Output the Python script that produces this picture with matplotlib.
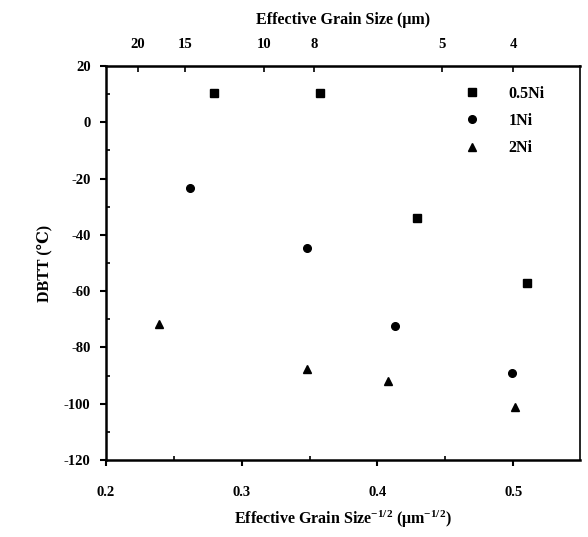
import matplotlib
matplotlib.use("Agg")
import matplotlib.pyplot as plt
from matplotlib.ticker import MultipleLocator
import numpy as np

# bottom axis: effective grain size^-1/2 (um^-1/2), y: DBTT (C)
ni05_x = [0.280, 0.358, 0.429, 0.510]
ni05_y = [10.5, 10.5, -34, -57]
ni1_x = [0.262, 0.348, 0.413, 0.499]
ni1_y = [-23.5, -44.5, -72.5, -89]
ni2_x = [0.239, 0.348, 0.408, 0.501]
ni2_y = [-71.5, -87.5, -92, -101]

grain_sizes = [20, 15, 10, 8, 5, 4]
series_labels = ["0.5Ni", "1Ni", "2Ni"]

plt.rcParams["font.family"] = ["Liberation Serif", "DejaVu Serif"]
plt.rcParams["font.weight"] = "bold"
plt.rcParams["axes.unicode_minus"] = False
plt.rcParams["mathtext.fontset"] = "custom"
plt.rcParams["mathtext.rm"] = "Liberation Serif:bold"
plt.rcParams["mathtext.bf"] = "Liberation Serif:bold"
plt.rcParams["mathtext.it"] = "Liberation Serif:bold"

fig = plt.figure(figsize=(5.88, 5.37), dpi=100)
ax = fig.add_axes([0.180, 0.1434, 0.806, 0.7336])

ax.plot(ni05_x, ni05_y, "s", color="black", ms=5.5, label=series_labels[0])
ax.plot(ni1_x, ni1_y, "o", color="black", ms=5.5, label=series_labels[1])
ax.plot(ni2_x, ni2_y, "^", color="black", ms=6, label=series_labels[2])

ax.set_xlim(0.2, 0.549)
ax.set_ylim(-120, 20)
ax.set_xticks([0.2, 0.3, 0.4, 0.5])
ax.set_xticklabels(["0.2", "0.3", "0.4", "0.5"])
ax.xaxis.set_minor_locator(MultipleLocator(0.05))
ax.yaxis.set_major_locator(MultipleLocator(20))
ax.yaxis.set_minor_locator(MultipleLocator(10))
ax.tick_params(axis="both", which="major", direction="out", length=4, width=1.5,
               labelsize=10.5, top=False, right=False)
ax.tick_params(axis="x", which="major", pad=15)
ax.tick_params(axis="y", which="major", pad=7)
ax.tick_params(axis="both", which="minor", direction="in", length=3, width=1.2,
               top=False, right=False)
for lab in ax.get_xticklabels() + ax.get_yticklabels():
    lab.set_fontweight("bold")

for side in ["left", "bottom", "top"]:
    ax.spines[side].set_linewidth(1.8)
ax.spines["right"].set_linewidth(1.2)

ax.set_xlabel(r"Effective Grain Size$^{-1/2}$ ($\mu$m$^{-1/2}$)",
              fontsize=11.5, fontweight="bold", labelpad=7)
ax.set_ylabel("DBTT (\u2103)", fontsize=11.5, fontweight="bold", labelpad=8)

top = ax.secondary_xaxis("top")
top.set_xticks([1 / np.sqrt(d) for d in grain_sizes])
top.set_xticklabels([str(d) for d in grain_sizes])
top.tick_params(direction="in", length=4, width=1.2, labelsize=10.5, pad=11)
for lab in top.get_xticklabels():
    lab.set_fontweight("bold")
top.set_xlabel("Effective Grain Size (\u03bcm)", fontsize=11.5, fontweight="bold", labelpad=10)

leg = ax.legend(loc="upper left", bbox_to_anchor=(0.756, 0.95), frameon=False,
                fontsize=11.5, handletextpad=1.8, labelspacing=0.7,
                borderaxespad=0, borderpad=0, handlelength=1.0)
for t in leg.get_texts():
    t.set_fontweight("bold")

fig.savefig("out.png", dpi=100)
